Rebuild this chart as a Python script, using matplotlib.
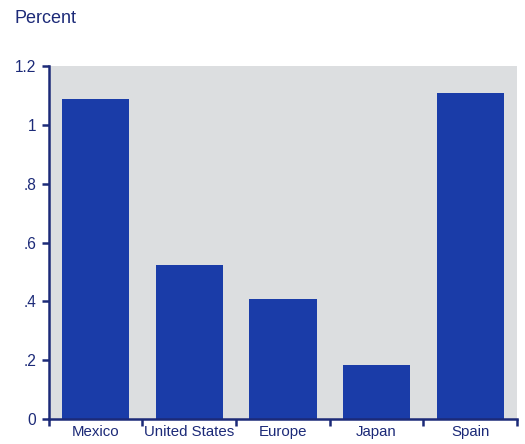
import numpy as np
import matplotlib.pyplot as plt

plt.rcParams['font.family'] = ['Liberation Sans', 'DejaVu Sans']

countries = ['Mexico', 'United States', 'Europe', 'Japan', 'Spain']
values = [1.09, 0.525, 0.41, 0.185, 1.11]
yticks = [0, 0.2, 0.4, 0.6, 0.8, 1.0, 1.2]
ytick_labels = ['0', '.2', '.4', '.6', '.8', '1', '1.2']

navy = '#1c2a78'
bar_blue = '#1a3ca8'
bg_gray = '#dcdee0'

fig = plt.figure(figsize=(5.25, 4.44), dpi=100)
ax = fig.add_axes([0.093, 0.056, 0.892, 0.795])
ax.set_facecolor(bg_gray)

x = np.arange(len(countries))
ax.bar(x, values, width=0.72, color=bar_blue, zorder=2)

ax.set_xlim(-0.5, len(countries) - 0.5)
ax.set_ylim(0, 1.2)

# category ticks sit on the boundaries, labels in the middle
ax.set_xticks(np.arange(len(countries) + 1) - 0.5)
ax.set_xticklabels([])
ax.set_xticks(x, minor=True)
ax.set_xticklabels(countries, minor=True, fontsize=10.8, color=navy)
ax.tick_params(axis='x', which='minor', length=0, pad=4)
ax.tick_params(axis='x', which='major', length=5, width=1.8, color=navy, direction='out')

ax.set_yticks(yticks)
ax.set_yticklabels(ytick_labels, fontsize=11.2, color=navy)
ax.tick_params(axis='y', length=5, width=1.8, color=navy, direction='out', pad=4)

for side in ['top', 'right']:
    ax.spines[side].set_visible(False)
for side in ['left', 'bottom']:
    ax.spines[side].set_color(navy)
    ax.spines[side].set_linewidth(1.8)

fig.text(0.027, 0.958, 'Percent', fontsize=13, color=navy, va='center', ha='left')

fig.savefig('out.png', dpi=100)
